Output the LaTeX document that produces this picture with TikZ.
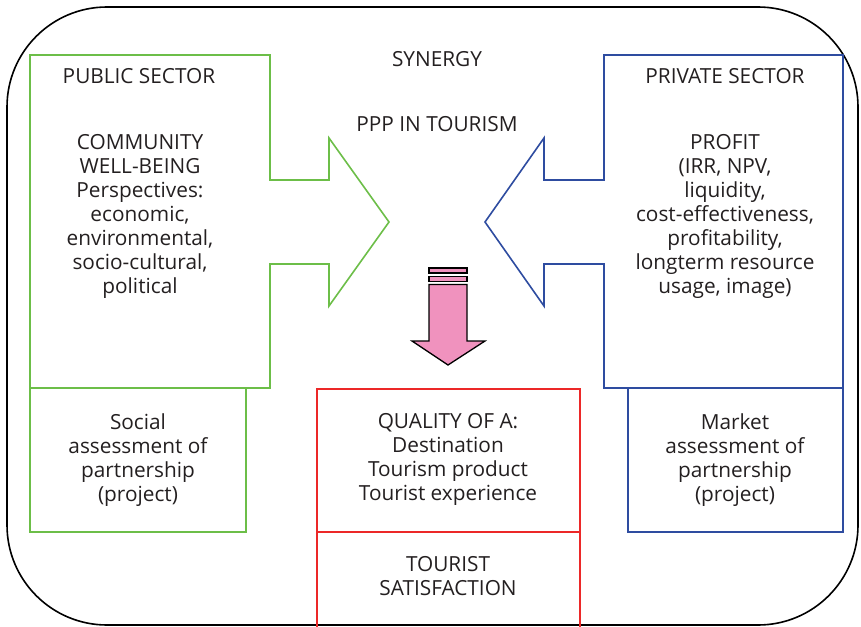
\documentclass[tikz,border=0pt]{standalone}
\usepackage{fontspec}
\setmainfont{Open Sans}
\definecolor{grn}{RGB}{108,190,72}
\definecolor{blu}{RGB}{46,76,160}
\definecolor{rd}{RGB}{236,40,40}
\definecolor{pnk}{RGB}{240,146,190}
\definecolor{txt}{RGB}{35,31,32}
\begin{document}
\begin{tikzpicture}[x=1pt,y=-1pt,
  lbl/.style={align=center,text=txt,font=\fontsize{20.8}{24}\selectfont,inner sep=0pt},
  gline/.style={draw=grn,line width=1.6pt,line join=miter},
  bline/.style={draw=blu,line width=1.6pt,line join=miter},
  rline/.style={draw=rd,line width=1.6pt},
  outer/.style={draw=black,line width=1.6pt,rounded corners=100pt}]
\useasboundingbox (0,0) rectangle (861,626);
\draw[outer] (7,7) rectangle (858,625);
% green arrow
\draw[gline] (30,388) -- (30,55) -- (270,55) -- (270,180) -- (329,180) -- (329,138) -- (389,222) -- (329,306) -- (329,264) -- (270,264) -- (270,388) -- cycle;
\draw[gline] (30,388) rectangle (246,532);
% blue arrow
\draw[bline] (843,388) -- (843,55) -- (604,55) -- (604,180) -- (544,180) -- (544,138) -- (485,222) -- (544,306) -- (544,264) -- (604,264) -- (604,388) -- cycle;
\draw[bline] (628,388) rectangle (843,532);
% red boxes
\draw[rline] (317,627) -- (317,389) -- (580,389) -- (580,627);
\draw[rline] (317,532) -- (580,532);
% pink arrow
\draw[fill=pnk,line width=1.3pt] (429,268) rectangle (467,273);
\draw[fill=pnk,line width=1.3pt] (429,276.5) rectangle (467,281.5);
\draw[fill=pnk,line width=1.3pt,line join=miter] (429,284.5) -- (467,284.5) -- (467,341) -- (485,341) -- (448,365) -- (412,341) -- (429,341) -- cycle;
% texts
\node[lbl] (pub) at (139,76) {PUBLIC SECTOR};
\node[lbl] (syn) at (437,59) {SYNERGY};
\node[lbl] (ppp) at (437,124) {PPP IN TOURISM};
\node[lbl] (priv) at (725,76) {PRIVATE SECTOR};
\node[lbl,anchor=north] (comm) at (140,134) {COMMUNITY\\WELL-BEING\\Perspectives:\\economic,\\environmental,\\socio-cultural,\\political};
\node[lbl,anchor=north] (prof) at (725,134) {PROFIT\\(IRR, NPV,\\liquidity,\\cost-effectiveness,\\profitability,\\longterm resource\\usage, image)};
\node[lbl,anchor=north] (soc) at (138,413) {Social\\assessment of\\partnership\\(project)};
\node[lbl,anchor=north] (mkt) at (735,413) {Market\\assessment of\\partnership\\(project)};
\node[lbl,anchor=north] (qual) at (448,413) {QUALITY OF A:\\Destination\\Tourism product\\Tourist experience};
\node[lbl,anchor=north] (sat) at (448,556) {TOURIST\\SATISFACTION};
\end{tikzpicture}
\end{document}
